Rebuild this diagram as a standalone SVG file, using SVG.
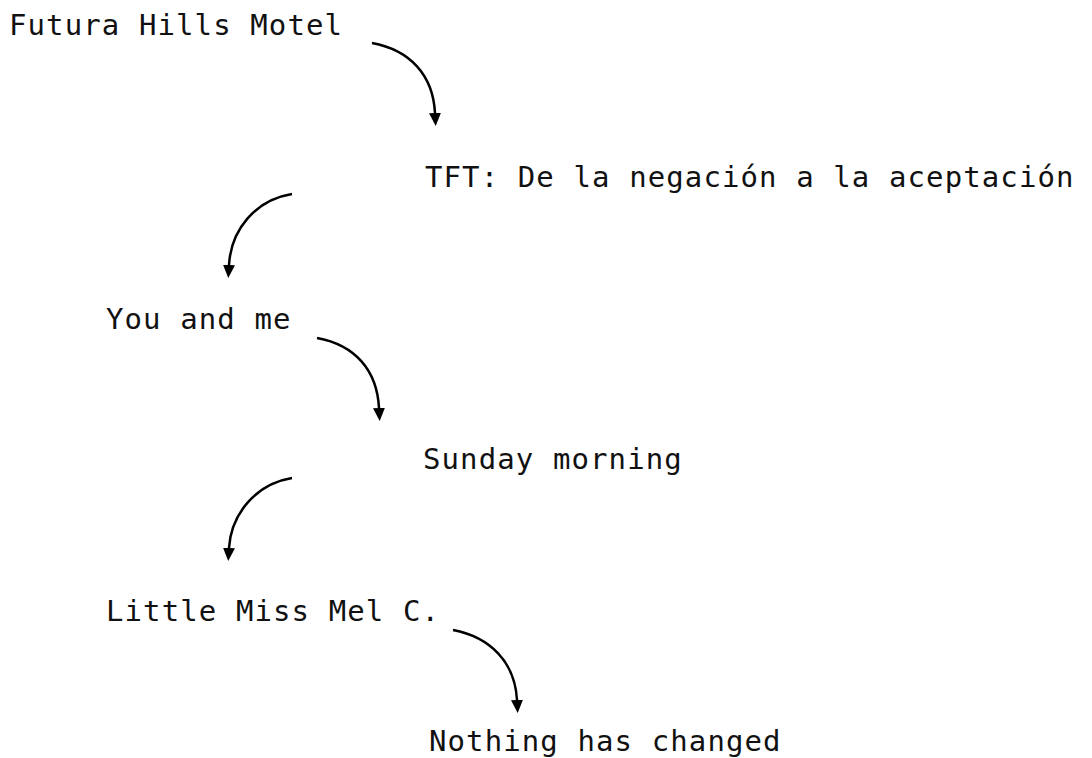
<svg xmlns="http://www.w3.org/2000/svg" width="1092" height="758" viewBox="0 0 1092 758">
<style>
.t{font-family:"DejaVu Sans Mono","Liberation Mono",monospace;font-size:29px;letter-spacing:1.1px;fill:#111}
.c{fill:none;stroke:#000;stroke-width:2.5}
</style>
<defs>
<marker id="ah" markerUnits="userSpaceOnUse" markerWidth="16" markerHeight="16" refX="0" refY="7" orient="auto" viewBox="0 0 16 14">
<path d="M0,1 L13,7 L0,13 z" fill="#000"/>
</marker>
</defs>
<rect width="1092" height="758" fill="#fff"/>
<g id="connectors">
<path class="c" marker-end="url(#ah)" d="M372,43 C410,50 433,75 435,113"/>
<path class="c" marker-end="url(#ah)" d="M292,194 C255,200 231,230 229,265"/>
<path class="c" marker-end="url(#ah)" d="M317,338 C355,345 377,370 379,408"/>
<path class="c" marker-end="url(#ah)" d="M292,478 C255,484 231,515 229,548"/>
<path class="c" marker-end="url(#ah)" d="M453,630 C490,637 515,662 517,700"/>
</g>
<g id="n1"><text class="t" x="9" y="35">Futura Hills Motel</text></g>
<g id="n2"><text class="t" x="425" y="187">TFT: De la negación a la aceptación</text></g>
<g id="n3"><text class="t" x="106" y="329">You and me</text></g>
<g id="n4"><text class="t" x="423" y="469">Sunday morning</text></g>
<g id="n5"><text class="t" x="106" y="621">Little Miss Mel C.</text></g>
<g id="n6"><text class="t" x="429" y="751">Nothing has changed</text></g>
</svg>
